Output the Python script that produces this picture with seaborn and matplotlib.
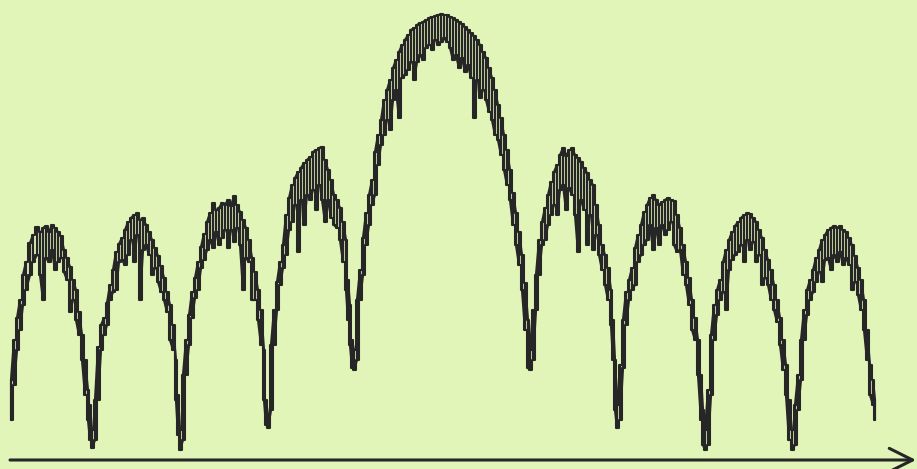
import pandas as pd
import matplotlib.pyplot as plt
import seaborn as sns

# Diffraction-like intensity trace.
# Positions along the screen (arbitrary units), grouped by lobe.
pos = [
    # lobe 1
    11, 14, 17, 20, 23, 26, 30, 33, 37, 40, 43, 46, 49, 52, 55, 58, 61, 64, 67, 70,
    73, 76, 79, 82, 85, 88, 90, 92,
    # lobe 2
    95, 98, 101, 104, 107, 110, 113, 116, 119, 122, 125, 128, 131, 134, 137, 140, 143,
    146, 149, 152, 155, 158, 161, 164, 167, 170, 173, 176, 178, 180,
    # lobe 3
    183, 186, 189, 192, 195, 198, 201, 204, 207, 210, 213, 216, 219, 222, 225, 228, 231,
    234, 237, 240, 243, 246, 249, 252, 255, 258, 261, 264, 266, 268,
    # lobe 4
    271, 274, 277, 280, 283, 286, 289, 292, 295, 298, 301, 304, 307, 310, 313, 316, 319,
    322, 325, 328, 331, 334, 337, 340, 343, 346, 348, 350, 352, 354,
    # central maximum
    357, 360, 363, 366, 369, 372, 375, 378, 381, 384, 387, 390, 393, 396, 399, 402, 405,
    408, 411, 414, 417, 420, 423, 426, 429, 432, 435, 438, 441, 444, 447, 450, 453, 456,
    459, 462, 465, 468, 471, 474, 477, 480, 483, 486, 489, 492, 495, 498, 501, 504, 507,
    510, 513, 516, 519, 522, 525, 528, 530,
    # lobe 6
    533, 536, 539, 542, 545, 548, 551, 554, 557, 560, 563, 566, 569, 572, 575, 578, 581,
    584, 587, 590, 593, 596, 599, 602, 605, 608, 611, 613, 615, 617,
    # lobe 7
    620, 623, 626, 629, 632, 635, 638, 641, 644, 647, 650, 653, 656, 659, 662, 665, 668,
    671, 674, 677, 680, 683, 686, 689, 692, 695, 698, 701, 703, 705,
    # lobe 8
    708, 711, 714, 717, 720, 723, 726, 729, 732, 735, 738, 741, 744, 747, 750, 753, 756,
    759, 762, 765, 768, 771, 774, 777, 780, 783, 786, 789, 792,
    # lobe 9
    795, 798, 801, 804, 807, 810, 813, 816, 819, 822, 825, 828, 831, 834, 837, 840, 843,
    846, 849, 852, 855, 858, 861, 864, 867, 870, 873, 875,
]

# top of the noisy band at each position
upper = [
    80, 120, 142, 160, 185, 198, 217, 225, 233, 228, 232, 234, 228, 235, 232, 228, 224, 210,
    202, 193, 180, 170, 148, 125, 100, 70, 55, 30,
    60, 113, 135, 142, 157, 175, 190, 208, 216, 222, 230, 238, 242, 245, 247, 240, 242, 235,
    228, 220, 212, 204, 194, 182, 168, 155, 135, 100, 65, 30,
    85, 120, 145, 168, 182, 198, 213, 226, 238, 247, 257, 250, 252, 257, 255, 260, 254, 264,
    255, 248, 240, 232, 220, 202, 188, 170, 150, 110, 60, 45,
    115, 150, 178, 198, 215, 245, 262, 275, 282, 288, 292, 297, 300, 303, 308, 310, 312, 313,
    300, 290, 280, 265, 260, 252, 238, 220, 180, 155, 120, 110,
    160, 190, 222, 247, 265, 280, 308, 325, 340, 360, 370, 380, 392, 400, 408, 415, 420, 425,
    430, 432, 435, 437, 438, 440, 442, 443, 444, 445, 446, 445, 445, 443, 442, 440, 438, 436,
    433, 430, 427, 424, 420, 415, 408, 402, 392, 382, 370, 355, 342, 325, 310, 290, 267, 247,
    228, 205, 177, 140, 110,
    150, 185, 220, 238, 252, 265, 278, 288, 295, 305, 312, 304, 310, 312, 305, 302, 298, 292,
    287, 280, 275, 255, 235, 215, 205, 192, 170, 140, 100, 55,
    95, 140, 168, 180, 192, 212, 225, 235, 248, 255, 262, 265, 260, 255, 258, 260, 262, 260,
    259, 245, 232, 215, 198, 182, 160, 142, 120, 85, 50, 30,
    70, 125, 155, 170, 180, 198, 210, 220, 228, 234, 238, 242, 245, 247, 246, 242, 238, 230,
    222, 210, 200, 190, 175, 160, 142, 120, 95, 60, 30,
    55, 85, 120, 150, 170, 180, 190, 202, 210, 220, 225, 230, 232, 234, 232, 234, 230, 228,
    222, 215, 204, 192, 180, 160, 130, 95, 80, 60,
]

# bottom of the noisy band (spikes) at each position
lower = [
    40, 75, 110, 130, 155, 170, 185, 198, 205, 185, 160, 202, 198, 210, 190, 198, 202, 188,
    180, 148, 160, 140, 125, 100, 65, 40, 20, 12,
    20, 60, 110, 125, 135, 160, 168, 170, 198, 200, 195, 205, 220, 198, 225, 160, 210, 215,
    205, 185, 192, 178, 168, 160, 148, 120, 110, 60, 25, 10,
    20, 85, 115, 142, 162, 170, 192, 200, 210, 220, 212, 228, 215, 222, 230, 212, 230, 218,
    232, 215, 170, 202, 198, 160, 160, 140, 115, 60, 35, 32,
    50, 115, 150, 175, 192, 205, 230, 238, 255, 208, 260, 235, 265, 260, 270, 250, 275, 260,
    238, 260, 242, 235, 232, 220, 198, 170, 140, 115, 92, 90,
    100, 160, 185, 215, 235, 255, 265, 295, 315, 325, 340, 330, 360, 370, 342, 382, 385, 390,
    398, 380, 398, 405, 400, 412, 415, 410, 420, 415, 418, 422, 418, 412, 400, 405, 392, 402,
    388, 395, 382, 342, 380, 362, 370, 360, 348, 340, 325, 320, 305, 290, 275, 260, 235, 215,
    195, 170, 130, 92, 90,
    100, 150, 185, 215, 220, 235, 245, 255, 245, 270, 275, 250, 272, 265, 245, 208, 260, 250,
    215, 245, 210, 225, 205, 190, 175, 160, 135, 100, 50, 32,
    40, 92, 135, 160, 170, 175, 198, 205, 215, 220, 235, 210, 232, 215, 235, 225, 230, 238,
    215, 208, 210, 185, 175, 155, 130, 120, 85, 40, 15, 10,
    15, 65, 120, 145, 160, 168, 150, 190, 200, 205, 208, 215, 198, 220, 210, 218, 198, 205,
    175, 182, 175, 160, 150, 138, 115, 90, 65, 20, 10,
    15, 50, 80, 120, 145, 160, 168, 178, 188, 178, 200, 202, 190, 205, 198, 208, 195, 202,
    195, 170, 178, 165, 150, 130, 100, 65, 55, 40,
]

bg = '#e2f5b8'
ink = '#262626'

# zig-zag between the band edges so the trace looks like the scanned scope trace
xs, ys = [], []
for i, (x, hi, lo) in enumerate(zip(pos, upper, lower)):
    xs += [x, x]
    ys += [lo, hi] if i % 2 == 0 else [hi, lo]
trace = pd.DataFrame({'Position': xs, 'Intensity': ys})
edges = pd.DataFrame({'Position': pos, 'upper': upper, 'lower': lower})

sns.set_theme(style="white")
fig = plt.figure(figsize=(9.17, 4.69), dpi=100)
fig.patch.set_facecolor(bg)
ax = fig.add_axes([0, 0, 1, 1])
ax.set_facecolor(bg)

sns.lineplot(data=trace, x='Position', y='Intensity', estimator=None, sort=False,
             color=ink, linewidth=1.6, ax=ax)
# outline of the band keeps the slopes solid
for edge in ['upper', 'lower']:
    sns.lineplot(data=edges, x='Position', y=edge, estimator=None, drawstyle='steps-mid',
                 color=ink, linewidth=1.5, ax=ax)

# baseline with open arrow head
ax.annotate('', xy=(916, 0), xytext=(10, 0),
            arrowprops=dict(arrowstyle='->,head_length=1.4,head_width=0.7',
                            color=ink, lw=2.2, shrinkA=0, shrinkB=0))

ax.set_xlim(0, 917)
ax.set_ylim(-9, 460)
ax.set_axis_off()

plt.savefig('out.png', dpi=100, facecolor=bg)
